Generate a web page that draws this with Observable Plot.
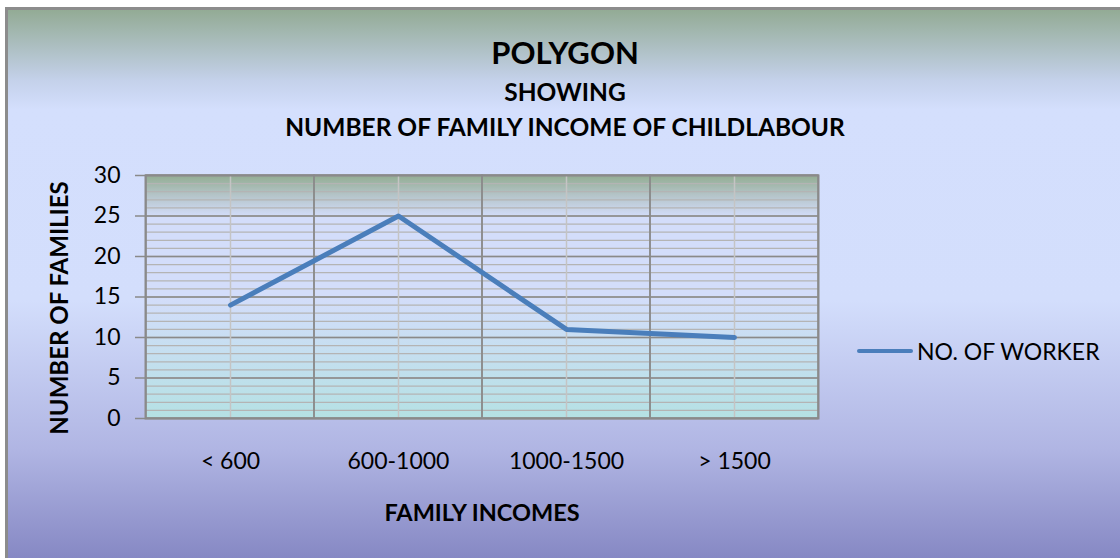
<!DOCTYPE html>
<html>
<head>
<meta charset="utf-8">
<script src="https://cdn.jsdelivr.net/npm/d3@7"></script>
<script src="https://cdn.jsdelivr.net/npm/@observablehq/plot@0.6"></script>
<style>
  html, body { margin: 0; padding: 0; background: #fff; }
  #wrap { position: relative; width: 1120px; height: 558px; overflow: hidden; font-family: Lato, "Open Sans", sans-serif; }
  #bg { position: absolute; left: 5px; top: 7px; width: 1130px; height: 560px; border-left: 3px solid #8c8c8c; border-top: 3px solid #8c8c8c;
        background: linear-gradient(to bottom, #93ab95 0px, #c4d1ea 70px, #d4dffd 100px, #d3defc 290px, #b0b5e3 440px, #8587c3 551px); }
  .title { position: absolute; left: 0; width: 1130px; text-align: center; font-weight: bold; color: #000; white-space: nowrap; }
  #t1 { top: 33px; font-size: 31px; }
  #t2 { top: 77px; font-size: 24.5px; }
  #t3 { top: 112px; font-size: 24.5px; }
  #chart { position: absolute; left: 0; top: 0; }
  #legend { position: absolute; left: 857px; top: 337px; display: flex; align-items: center; font-size: 23px; color: #000; white-space: nowrap; }
  #legend .swatch { display: inline-block; width: 56px; height: 4px; background: #4a7ebb; border-radius: 2px; margin-right: 4px; }
</style>
</head>
<body>
<svg width="0" height="0" style="position:absolute">
  <defs>
    <linearGradient id="plotBg" x1="0" y1="0" x2="0" y2="1">
      <stop offset="0" stop-color="#93ad93"/>
      <stop offset="0.08" stop-color="#b4c4c8"/>
      <stop offset="0.17" stop-color="#d3ddfa"/>
      <stop offset="0.5" stop-color="#d3ddfa"/>
      <stop offset="1" stop-color="#b5e1e4"/>
    </linearGradient>
  </defs>
</svg>
<div id="wrap">
  <div id="bg"></div>
  <div class="title" id="t1">POLYGON</div>
  <div class="title" id="t2">SHOWING</div>
  <div class="title" id="t3">NUMBER OF FAMILY INCOME OF CHILDLABOUR</div>
  <div id="chart"></div>
  <div id="legend"><span class="swatch"></span><span id="legendText"></span></div>
</div>
<script>
const categories = ["< 600", "600-1000", "1000-1500", "> 1500"];
const families = [14, 25, 11, 10];
const yTicks = [0, 5, 10, 15, 20, 25, 30];
const yMinorGrid = d3.range(0, 31, 1);
const seriesName = "NO. OF WORKER";
const xTitle = "FAMILY INCOMES";
const yTitle = "NUMBER OF FAMILIES";

const data = categories.map((c, i) => ({cat: c, val: families[i]}));

const gridDark = "#8a8a8a";
const gridLight = "#b4b4b4";

const plot = Plot.plot({
  width: 1120,
  height: 558,
  marginLeft: 145,
  marginRight: 302,
  marginTop: 175,
  marginBottom: 140,
  style: {background: "transparent", fontFamily: "Lato, 'Open Sans', sans-serif", color: "#000"},
  x: {type: "band", domain: categories, padding: 0, axis: null},
  y: {domain: [0, 30], axis: null},
  marks: [
    Plot.frame({fill: "url(#plotBg)", stroke: null}),
    Plot.ruleY(yMinorGrid, {stroke: gridLight, strokeWidth: 1.3}),
    Plot.ruleY(yTicks, {stroke: gridDark, strokeWidth: 1.5}),
    Plot.ruleX(categories, {stroke: "#c4c4c4", strokeWidth: 1.5}),
    Plot.cell(categories, {x: d => d, fill: "none", stroke: gridDark, strokeWidth: 1.5, inset: 0}),
    Plot.frame({stroke: gridDark, strokeWidth: 2}),
    Plot.axisY(yTicks, {anchor: "left", tickSize: 10, tickPadding: 15, stroke: gridDark, strokeWidth: 1.5, color: "#000", fontSize: 23, label: null}),
    Plot.axisX({anchor: "bottom", tickSize: 0, tickPadding: 34, color: "#000", fontSize: 23, label: null}),
    Plot.text([yTitle], {text: d => d, frameAnchor: "left", textAnchor: "middle", rotate: -90, dx: -85, dy: 11, fontSize: 24, fontWeight: "bold", fill: "#000", lineAnchor: "middle"}),
    Plot.text([xTitle], {text: d => d, frameAnchor: "bottom", dy: 95, fontSize: 23.5, fontWeight: "bold", fill: "#000", lineAnchor: "middle"}),
    Plot.line(data, {x: "cat", y: "val", stroke: "#4a7ebb", strokeWidth: 5, strokeLinecap: "round", strokeLinejoin: "round"})
  ]
});
document.getElementById("chart").appendChild(plot);
document.getElementById("legendText").textContent = seriesName;
</script>
</body>
</html>
